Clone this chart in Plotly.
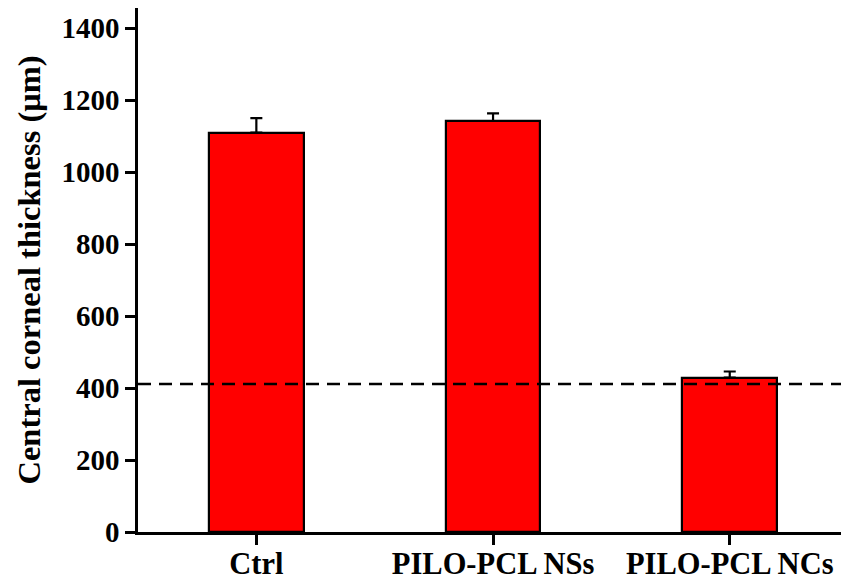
import plotly.graph_objects as go

categories = ["Ctrl", "PILO-PCL NSs", "PILO-PCL NCs"]
thickness = [1110, 1142, 429]
err_plus = [40, 21, 17]
reference_level = 411
y_ticks = [0, 200, 400, 600, 800, 1000, 1200, 1400]

FONT = "Liberation Serif"

fig = go.Figure()
fig.add_trace(go.Bar(
    x=list(range(len(categories))),
    y=thickness,
    width=0.4,
    marker=dict(color="#ff0000", line=dict(color="black", width=2.2)),
    error_y=dict(type="data", array=err_plus, arrayminus=[0] * len(err_plus),
                 symmetric=False, color="black", thickness=2.2, width=6),
    showlegend=False,
))

fig.add_shape(type="line", xref="paper", yref="y", x0=0, x1=1,
              y0=reference_level, y1=reference_level,
              line=dict(color="black", width=2.5, dash="13px,8px"), layer="above")

fig.update_layout(
    width=841, height=582,
    margin=dict(l=138, r=0, t=8, b=50, autoexpand=False),
    plot_bgcolor="white", paper_bgcolor="white",
    font=dict(family=FONT, color="black", size=29),
    bargap=0,
)
fig.update_xaxes(
    range=[-0.5, 2.47], automargin=False,
    tickvals=list(range(len(categories))), ticktext=[f"<b>{c}</b>" for c in categories],
    showline=True, linecolor="black", linewidth=2.5,
    ticks="outside", ticklen=10, tickwidth=2.5, tickcolor="black",
    ticklabelstandoff=-7,
    showgrid=False, zeroline=False,
    tickfont=dict(family=FONT, size=30.5, color="black"),
)
fig.update_yaxes(
    range=[0, 1456], automargin=False,
    tickvals=y_ticks, ticktext=[f"<b>{v}</b>" for v in y_ticks],
    showline=True, linecolor="black", linewidth=2.5,
    ticks="outside", ticklen=10, tickwidth=2.5, tickcolor="black",
    showgrid=False, zeroline=False,
    tickfont=dict(family=FONT, size=29, color="black"),
    title=dict(text="<b>Central corneal thickness (μm)</b>", standoff=12,
               font=dict(family=FONT, size=32.5, color="black")),
)

fig.write_html("out.html")
